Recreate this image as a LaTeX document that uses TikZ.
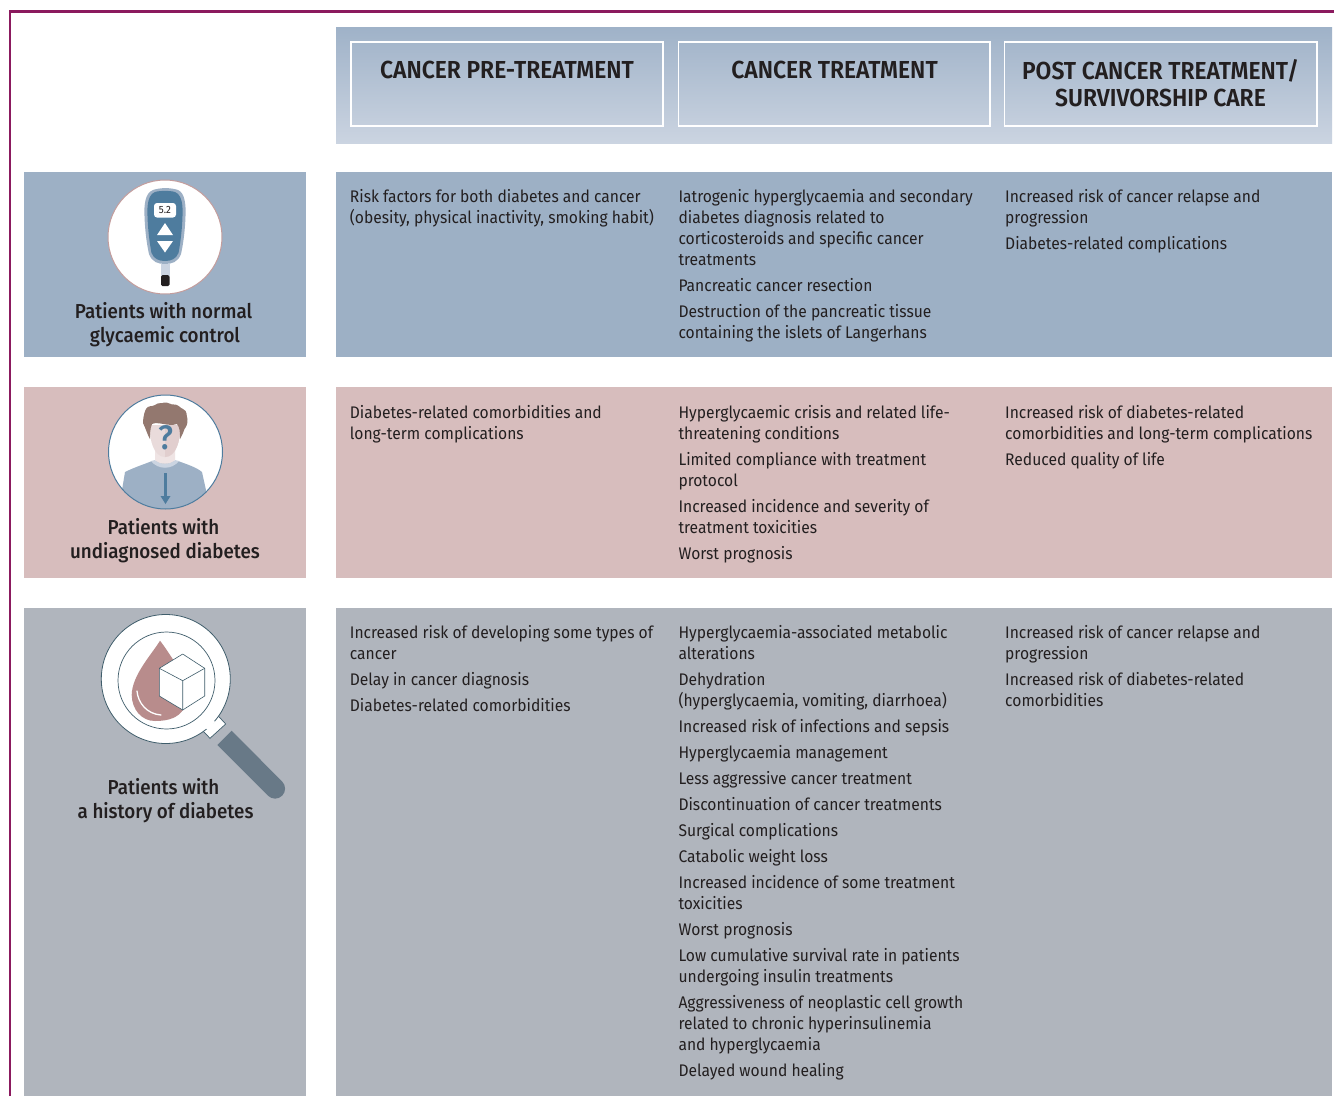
\documentclass[tikz,border=0pt]{standalone}
\usepackage{fontspec}
\setmainfont{Fira Sans}[FakeStretch=0.93]
\newfontfamily\medfont{Fira Sans Medium}[FakeStretch=0.93]
\newfontfamily\semifont{Fira Sans SemiBold}[FakeStretch=0.93]
\usetikzlibrary{calc}
\definecolor{frameC}{HTML}{8B1A5E}
\definecolor{blueRow}{HTML}{9DB0C5}
\definecolor{pinkRow}{HTML}{D7BDBD}
\definecolor{greyRow}{HTML}{B0B5BD}
\definecolor{headTop}{HTML}{9FB2C8}
\definecolor{headBot}{HTML}{CBD4E1}
\definecolor{ink}{HTML}{231F20}
\definecolor{steel}{HTML}{4E7C9E}
\definecolor{rose}{HTML}{B88C8C}
\definecolor{hairC}{HTML}{93786F}
\definecolor{slateC}{HTML}{687987}
\definecolor{darkline}{HTML}{3F5D6B}
\tikzset{
  x=1pt,y=-1pt,
  para/.style={anchor=north west,inner sep=0pt,align=left,text=ink,font=\fontsize{16.8}{21}\selectfont},
  lab/.style={anchor=north,inner sep=0pt,align=center,text=ink,font=\fontsize{20.2}{24}\selectfont\medfont},
  headtxt/.style={anchor=north,inner sep=0pt,align=center,text=ink,font=\fontsize{24.6}{27}\selectfont\semifont},
  headbox/.style={draw=white,line width=1.2pt},
}
\newcommand{\fs}{\rule{0pt}{15pt}}
\newcommand{\para}[4]{\node[para] (#1) at (#2,#3-15) {\fs #4};}
\begin{document}
\begin{tikzpicture}
\useasboundingbox (0,0) rectangle (1334,1096);
\fill[white] (0,0) rectangle (1334,1096);
% frame
\draw[frameC,line width=2.2pt] (10,1096) -- (10,11.5) -- (1334,11.5);
% header
\shade[top color=headTop,bottom color=headBot] (336,27) rectangle (1332,143);
\draw[headbox] (351,42) rectangle (663,126);
\draw[headbox] (678.5,42) rectangle (990,126);
\draw[headbox] (1004.5,42) rectangle (1317,126);
\node[headtxt] (h1) at (507,60.5) {\rule{0pt}{17pt}CANCER PRE-TREATMENT};
\node[headtxt] (h2) at (834.5,60.5) {\rule{0pt}{17pt}CANCER TREATMENT};
\node[headtxt] (h3) at (1160.5,59) {\rule{0pt}{17pt}POST CANCER TREATMENT/\\SURVIVORSHIP CARE};
% rows
\fill[blueRow] (24,172) rectangle (306,357);
\fill[blueRow] (336,172) rectangle (1332,357);
\fill[pinkRow] (24,387) rectangle (306,578);
\fill[pinkRow] (336,387) rectangle (1332,578);
\fill[greyRow] (24,608) rectangle (306,1096);
\fill[greyRow] (336,608) rectangle (1332,1096);
% --- meter icon
\draw[fill=white,draw=rose!85!white,line width=1pt] (165,237) circle (57);
\fill[blueRow] (153,190) .. controls (160,187.5) and (171,187.5) .. (178,190)
  .. controls (185,193) and (186,205) .. (185.5,216)
  .. controls (185,232) and (183,245) .. (181,254)
  .. controls (178,262) and (172,264) .. (165,264)
  .. controls (158,264) and (152,262) .. (149,254)
  .. controls (147,245) and (145,232) .. (144.5,216)
  .. controls (144,205) and (145,193) .. (153,190) -- cycle;
\fill[steel] (155,192) .. controls (160,190.5) and (170,190.5) .. (175,192)
  .. controls (182,195) and (183,205) .. (182.5,216)
  .. controls (182,232) and (180,245) .. (178.5,253)
  .. controls (176,259) and (171,261) .. (165,261)
  .. controls (159,261) and (154,259) .. (151.5,253)
  .. controls (150,245) and (148,232) .. (147.5,216)
  .. controls (147,205) and (148,195) .. (155,192) -- cycle;
\fill[white,rounded corners=3pt] (154,203) rectangle (176,217.5);
\node[inner sep=0pt,text=ink,font=\fontsize{10.5}{12}\selectfont] (meterval) at (165,210) {5.2};
\fill[white] (165,223) -- (173,235) -- (157,235) -- cycle;
\fill[white] (157,241) -- (173,241) -- (165,252.5) -- cycle;
\fill[headBot] (161,264) rectangle (169.5,276);
\fill[ink,rounded corners=1.5pt] (161,275) -- (169.5,275) -- (169.5,286) -- (161,286) -- cycle;
% --- person icon
\fill[white] (165.5,452) circle (57);
\begin{scope}
\clip (165.5,452) circle (57);
\fill[blueRow] (122,490) -- (125,472) .. controls (135,467) and (145,464) .. (152,461)
  -- (178,461) .. controls (186,464) and (196,467) .. (202,472) -- (206,490) -- (206,515) -- (122,515) -- cycle;
\fill[headBot] (151,461) .. controls (158,470) and (172,470) .. (179,461) -- (175,460) .. controls (170,465) and (160,465) .. (155,460) -- cycle;
\fill[pinkRow!40!white] (155,450) -- (175,450) -- (175,460) .. controls (170,465) and (160,465) .. (155,460) -- cycle;
\end{scope}
\fill[pinkRow!55!white] (150,425) -- (180,425) .. controls (181,440) and (176,457) .. (165,457)
  .. controls (154,457) and (149,440) .. (150,425) -- cycle;
\fill[pinkRow!75!white] (165,425) -- (180,425) .. controls (181,440) and (176,457) .. (165,457) -- cycle;
\fill[hairC] (143,423) .. controls (143,416) and (145,411) .. (146,409)
  .. controls (148,405) and (152,407) .. (155,405) .. controls (158,402) and (162,404) .. (164,402.5)
  .. controls (168,402) and (171,405) .. (174,404.5) .. controls (178,404) and (180,408) .. (183,409)
  .. controls (188,411) and (186,416) .. (187.5,419) .. controls (188,424) and (186,427) .. (184.5,429)
  -- (183,433) -- (180,439) .. controls (180,432) and (180,428) .. (177,424)
  .. controls (168,427) and (158,421) .. (152,424)
  .. controls (150,428) and (150,435) .. (150,439) .. controls (147,434) and (146,429) .. (143,423) -- cycle;
\node[inner sep=0pt,text=steel,font=\fontsize{34}{36}\selectfont\medfont] (qmark) at (165.5,437.5) {?};
\draw[steel,line width=2.6pt] (165.5,473) -- (165.5,497);
\fill[steel] (160.5,496) -- (170.5,496) -- (165.5,504) -- cycle;
\draw[steel,line width=1pt] (165.5,452) circle (57);
% --- magnifier icon
\fill[slateC] (231.7,730.7) -- (217.3,745) -- (268,795.7) arc[start angle=135,end angle=-45,radius=10] -- cycle;
\fill[white] (218.3,716) -- (225.7,724) -- (210,738.3) -- (202.7,730.7) -- cycle;
\draw[darkline,line width=0.7pt] (218.3,716) -- (225.7,724) -- (210,738.3) -- (202.7,730.7);
\draw[fill=white,draw=darkline,line width=0.8pt] (165.8,679) circle (64.5);
\fill[white] (215,722) -- (209,730) -- (203,727) -- (210,716) -- cycle;
\draw[darkline,line width=0.7pt] (166.5,680.5) circle (48.5);
\fill[rose] (160,640.7) .. controls (152,654) and (132,675) .. (131.7,695)
  .. controls (132,710) and (142,721) .. (155,721)
  .. controls (170,721) and (178,717) .. (183,710) -- (185,680) -- (174,661) .. controls (170,655) and (165,647) .. (160,640.7) -- cycle;
\draw[white,line width=1.3pt,line cap=round] (137,691) .. controls (138,703) and (147,714) .. (161,715);
\draw[fill=white,draw=darkline,line width=0.6pt,line join=round] (182.7,654) -- (204.7,668.3) -- (204.7,696) -- (182.7,710) -- (159.3,696) -- (159.3,668.3) -- cycle;
\draw[darkline,line width=0.6pt] (159.3,668.3) -- (182.7,680.7) -- (204.7,668.3) (182.7,680.7) -- (182.7,710);
% --- row labels
\node[lab] (l1) at (163.5,300) {\rule{0pt}{18pt}Patients with normal};
\node[lab] (l1b) at (165,324) {\rule{0pt}{18pt}glycaemic control};
\node[lab] (l2) at (163.5,516) {\rule{0pt}{18pt}Patients with};
\node[lab] (l2b) at (165,540) {\rule{0pt}{18pt}undiagnosed diabetes};
\node[lab] (l3) at (163.5,776) {\rule{0pt}{18pt}Patients with};
\node[lab] (l3b) at (165.5,800) {\rule{0pt}{18pt}a history of diabetes};
% --- row 1 text
\para{a1}{349.7}{202}{Risk factors for both diabetes and cancer\\(obesity, physical inactivity, smoking habit)}
\para{b1}{678.3}{202}{Iatrogenic hyperglycaemia and secondary\\diabetes diagnosis related to\\corticosteroids and specific cancer\\treatments}
\para{b2}{678.3}{291}{Pancreatic cancer resection}
\para{b3}{678.3}{317}{Destruction of the pancreatic tissue\\containing the islets of Langerhans}
\para{c1}{1005}{202}{Increased risk of cancer relapse and\\progression}
\para{c2}{1005}{249.5}{Diabetes-related complications}
% --- row 2 text
\para{a2}{349.7}{418}{Diabetes-related comorbidities and\\long-term complications}
\para{d1}{678.3}{418}{Hyperglycaemic crisis and related life-\\threatening conditions}
\para{d2}{678.3}{465}{Limited compliance with treatment\\protocol}
\para{d3}{678.3}{512}{Increased incidence and severity of\\treatment toxicities}
\para{d4}{678.3}{559}{Worst prognosis}
\para{e1}{1005}{418}{Increased risk of diabetes-related\\comorbidities and long-term complications}
\para{e2}{1005}{465}{Reduced quality of life}
% --- row 3 text
\para{f1}{349.7}{638}{Increased risk of developing some types of\\cancer}
\para{f2}{349.7}{685}{Delay in cancer diagnosis}
\para{f3}{349.7}{711}{Diabetes-related comorbidities}
\para{g1}{678.3}{638}{Hyperglycaemia-associated metabolic\\alterations}
\para{g2}{678.3}{685}{Dehydration\\(hyperglycaemia, vomiting, diarrhoea)}
\para{g3}{678.3}{732}{Increased risk of infections and sepsis}
\para{g4}{678.3}{758}{Hyperglycaemia management}
\para{g5}{678.3}{784}{Less aggressive cancer treatment}
\para{g6}{678.3}{810}{Discontinuation of cancer treatments}
\para{g7}{678.3}{836}{Surgical complications}
\para{g8}{678.3}{862}{Catabolic weight loss}
\para{g9}{678.3}{888}{Increased incidence of some treatment\\toxicities}
\para{g10}{678.3}{935}{Worst prognosis}
\para{g11}{678.3}{961}{Low cumulative survival rate in patients\\undergoing insulin treatments}
\para{g12}{678.3}{1008}{Aggressiveness of neoplastic cell growth\\related to chronic hyperinsulinemia\\and hyperglycaemia}
\para{g13}{678.3}{1076}{Delayed wound healing}
\para{h4}{1005}{638}{Increased risk of cancer relapse and\\progression}
\para{h5}{1005}{685}{Increased risk of diabetes-related\\comorbidities}
\end{tikzpicture}
\end{document}
